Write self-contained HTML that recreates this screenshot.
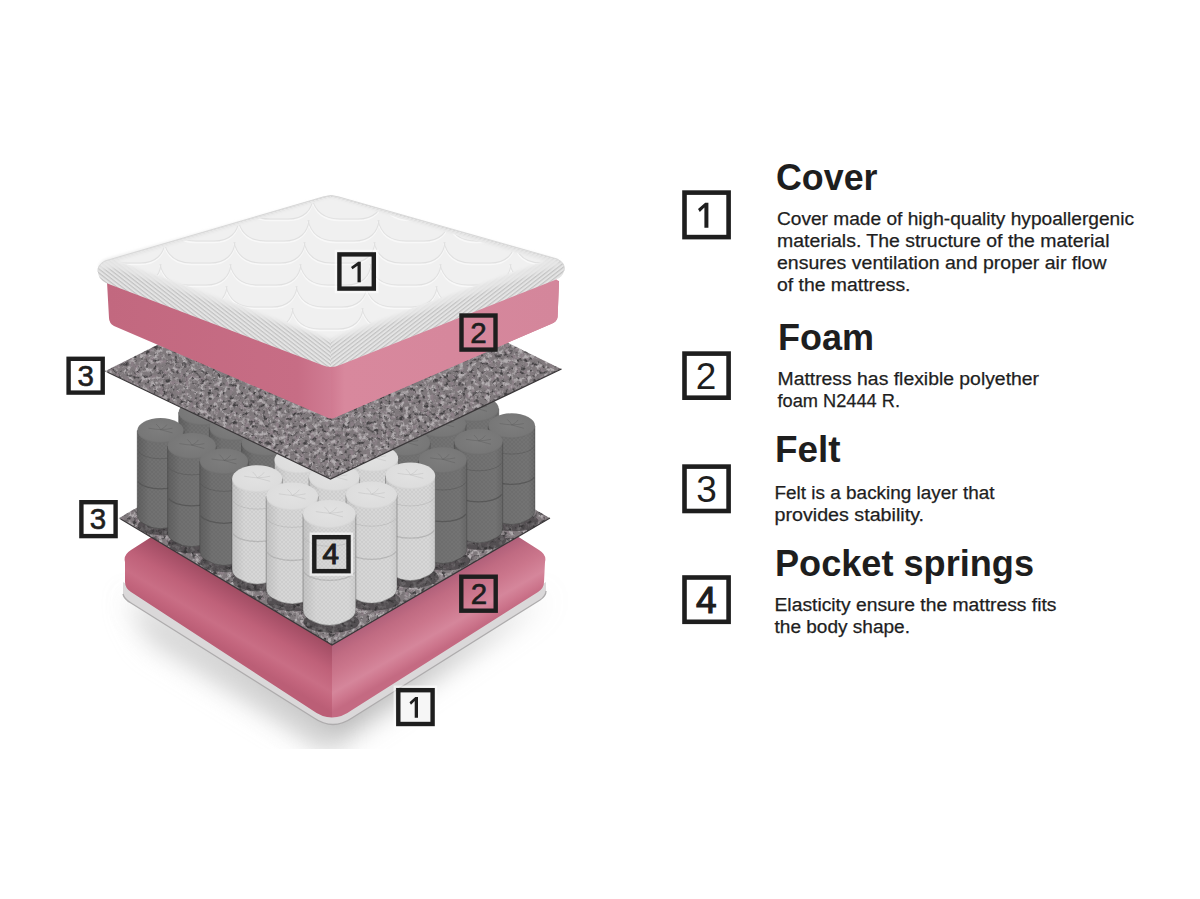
<!DOCTYPE html>
<html><head><meta charset="utf-8">
<style>
html,body{margin:0;padding:0;background:#fff;}
body{width:1200px;height:899px;overflow:hidden;position:relative;font-family:"Liberation Sans",sans-serif;}
svg{position:absolute;left:0;top:0;}
.h{font-family:"Liberation Sans",sans-serif;font-weight:bold;font-size:37px;fill:#1e1e1e;}
.b{font-family:"Liberation Sans",sans-serif;font-size:18px;fill:#1e1e1e;stroke:#1e1e1e;stroke-width:0.25px;}
.n{font-family:"Liberation Sans",sans-serif;font-size:37px;fill:#1e1e1e;}
.n4{font-family:"Liberation Sans",sans-serif;font-size:37px;fill:#1e1e1e;stroke:#1e1e1e;stroke-width:1.2px;}
.m4{font-family:"Liberation Sans",sans-serif;font-size:29.5px;fill:#1e1e1e;stroke:#1e1e1e;stroke-width:1.1px;}
.m{font-family:"Liberation Sans",sans-serif;font-size:29.5px;fill:#1e1e1e;stroke:#1e1e1e;stroke-width:0.6px;}
</style></head>
<body>
<svg width="1200" height="899" viewBox="0 0 1200 899">
<defs>
<linearGradient id="gd" x1="0" y1="0" x2="1" y2="0">
<stop offset="0" stop-color="#606060"/><stop offset="0.25" stop-color="#717171"/><stop offset="0.85" stop-color="#747474"/><stop offset="1" stop-color="#686868"/>
</linearGradient>
<linearGradient id="gl" x1="0" y1="0" x2="1" y2="0">
<stop offset="0" stop-color="#c4c4c4"/><stop offset="0.25" stop-color="#d6d6d6"/><stop offset="0.85" stop-color="#d8d8d8"/><stop offset="1" stop-color="#cdcdcd"/>
</linearGradient>
<radialGradient id="td" cx="0.5" cy="0.45" r="0.6">
<stop offset="0" stop-color="#7e7e7e"/><stop offset="0.8" stop-color="#777"/><stop offset="1" stop-color="#666"/>
</radialGradient>
<radialGradient id="tl" cx="0.5" cy="0.45" r="0.6">
<stop offset="0" stop-color="#e2e2e2"/><stop offset="0.8" stop-color="#dddddd"/><stop offset="1" stop-color="#cacaca"/>
</radialGradient>
<pattern id="knit" patternUnits="userSpaceOnUse" width="4" height="4"><path d="M0,4 L4,0 M0,0 L4,4" stroke="#000" stroke-width="0.5" opacity="0.35"/></pattern>
<filter id="felt" x="0" y="0" width="100%" height="100%" color-interpolation-filters="sRGB">
<feTurbulence type="fractalNoise" baseFrequency="0.22" numOctaves="3" seed="3" result="n1"/>
<feColorMatrix in="n1" type="matrix" values="0 0 0 0 0.70  0 0 0 0 0.68  0 0 0 0 0.69  4 0 0 0 -1.9" result="s1"/>
<feTurbulence type="fractalNoise" baseFrequency="0.24" numOctaves="3" seed="11" result="n2"/>
<feColorMatrix in="n2" type="matrix" values="0 0 0 0 0.26  0 0 0 0 0.25  0 0 0 0 0.26  4 0 0 0 -2.15" result="s2"/>
<feTurbulence type="fractalNoise" baseFrequency="0.2" numOctaves="2" seed="29" result="n3"/>
<feColorMatrix in="n3" type="matrix" values="0 0 0 0 0.55  0 0 0 0 0.50  0 0 0 0 0.53  4 0 0 0 -2.0" result="s3"/>
<feMerge result="m"><feMergeNode in="SourceGraphic"/><feMergeNode in="s3"/><feMergeNode in="s1"/><feMergeNode in="s2"/></feMerge>
<feComposite in="m" in2="SourceAlpha" operator="in"/>
</filter>
<filter id="blur12" x="-30%" y="-30%" width="160%" height="160%"><feGaussianBlur stdDeviation="14"/></filter>
<filter id="blur4" x="-10%" y="-10%" width="120%" height="120%"><feGaussianBlur stdDeviation="4"/></filter>
<filter id="blur2" x="-10%" y="-10%" width="120%" height="120%"><feGaussianBlur stdDeviation="1.5"/></filter>
<linearGradient id="pinkLowL" gradientUnits="userSpaceOnUse" x1="230" y1="584" x2="200" y2="634.6">
<stop offset="0" stop-color="#a04c62"/><stop offset="0.2" stop-color="#b0566e"/><stop offset="0.4" stop-color="#bf6179"/><stop offset="0.7" stop-color="#c96e85"/><stop offset="0.85" stop-color="#c3657d"/><stop offset="1" stop-color="#bb5e76"/>
</linearGradient>
<linearGradient id="pinkLowR" gradientUnits="userSpaceOnUse" x1="440" y1="582" x2="469.5" y2="633">
<stop offset="0" stop-color="#b0607a"/><stop offset="0.2" stop-color="#c06b82"/><stop offset="0.45" stop-color="#cb768c"/><stop offset="0.72" stop-color="#d5869b"/><stop offset="0.88" stop-color="#cd768d"/><stop offset="1" stop-color="#c46a82"/>
</linearGradient>
<linearGradient id="pinkUpL" gradientUnits="userSpaceOnUse" x1="107" y1="0" x2="331" y2="0">
<stop offset="0" stop-color="#c2687f"/><stop offset="0.85" stop-color="#c76d85"/><stop offset="1" stop-color="#d07c93"/>
</linearGradient>
<linearGradient id="pinkUpR" gradientUnits="userSpaceOnUse" x1="331" y1="0" x2="559" y2="0">
<stop offset="0" stop-color="#d07a91"/><stop offset="0.06" stop-color="#d8889d"/><stop offset="1" stop-color="#d4869b"/>
</linearGradient>
</defs>

<!-- shadow -->
<path d="M126,596 L334,744 L548,596 L334,700 Z" fill="#b4b4b4" filter="url(#blur12)"/>
<path d="M128,598 L334,730 L334,752 L150,640 Z" fill="#cfcfcf" filter="url(#blur12)"/>
<rect x="0" y="749" width="1200" height="150" fill="#fff"/>
<!-- bottom white cover strip -->
<path d="M123,582 L123,594 Q124,599 131,603 L314,718 Q333,731 352,718 L540,600 Q546,596 546,591 L546,582 L334,714 Z" fill="#dad8d9"/>
<path d="M123,594 Q124,599 131,603 L314,718 Q333,731 352,718 L540,600 Q546,596 546,591" fill="none" stroke="#aeacad" stroke-width="1.3"/>
<!-- lower pink foam -->
<clipPath id="lowpink"><path d="M125,562 Q123,555 131,550 L334,420 L539,550 Q547,555 545,562 L544,582 Q544,588 538,592 L352,710 Q332,725 312,710 L131,592 Q125,588 125,582 Z"/></clipPath>
<g clip-path="url(#lowpink)">
<path d="M120,540 L334,400 L332,400 L332,730 L120,600 Z" fill="url(#pinkLowL)"/>
<path d="M332,400 L550,540 L550,600 L332,730 Z" fill="url(#pinkLowR)"/>
<path d="M332,648 L332,716" stroke="#c8708a" stroke-width="10" filter="url(#blur4)"/>
</g>
<!-- lower felt -->
<path d="M119,518 L333,392 L550,518 L332,645 Z" fill="#7f797c" filter="url(#felt)"/>
<path d="M119,518 L332,645 L550,518" fill="none" stroke="#3a3739" stroke-width="1.2"/>

<!-- springs -->
<ellipse cx="204.6" cy="511.1" rx="25.5" ry="9.7" fill="#2e2c2d" opacity="0.55"/>
<path d="M178.6,412.4 L178.6,499.3 Q178.6,505.3 184.6,508.5 Q202.6,519.5 220.6,508.5 Q226.6,505.3 226.6,499.3 L226.6,412.4 Z" fill="url(#gd)" stroke="#333" stroke-opacity="0.35" stroke-width="1"/>
<path d="M179.6,465.3 A24.0,10.4 0 0 0 225.6,465.3" fill="none" stroke="#555" stroke-width="1.3" opacity="0.8"/>
<path d="M179.6,434.1 A24.0,10.4 0 0 0 225.6,434.1" fill="none" stroke="#555" stroke-width="0.6" opacity="0.8"/>
<ellipse cx="202.6" cy="412.4" rx="24.0" ry="13.0" fill="url(#td)"/>
<path d="M202.6,411.4 Q197.9,411.1 190.2,409.9" fill="none" stroke="#5e5e5e" stroke-width="0.8" opacity="0.6"/>
<path d="M202.6,411.4 Q201.8,409.0 198.1,405.7" fill="none" stroke="#5e5e5e" stroke-width="0.8" opacity="0.6"/>
<path d="M202.6,411.4 Q207.4,409.3 209.2,406.2" fill="none" stroke="#5e5e5e" stroke-width="0.8" opacity="0.6"/>
<path d="M202.6,411.4 Q210.3,411.1 215.0,409.9" fill="none" stroke="#5e5e5e" stroke-width="0.8" opacity="0.6"/>
<path d="M202.6,411.4 Q210.3,413.6 215.0,414.8" fill="none" stroke="#5e5e5e" stroke-width="0.8" opacity="0.6"/>
<path d="M178.6,412.4 L178.6,499.3 Q178.6,505.3 184.6,508.5 Q202.6,519.5 220.6,508.5 Q226.6,505.3 226.6,499.3 L226.6,412.4 A24.0,13.0 0 0 1 178.6,412.4 Z" fill="url(#knit)" opacity="0.25"/>
<ellipse cx="476.5" cy="507.4" rx="25.8" ry="9.8" fill="#2e2c2d" opacity="0.55"/>
<path d="M450.2,408.8 L450.2,495.5 Q450.2,501.5 456.2,504.8 Q474.5,515.9 492.8,504.8 Q498.8,501.5 498.8,495.5 L498.8,408.8 Z" fill="url(#gd)" stroke="#333" stroke-opacity="0.35" stroke-width="1"/>
<path d="M451.2,461.6 A24.3,10.5 0 0 0 497.8,461.6" fill="none" stroke="#555" stroke-width="1.3" opacity="0.8"/>
<path d="M451.2,430.4 A24.3,10.5 0 0 0 497.8,430.4" fill="none" stroke="#555" stroke-width="0.6" opacity="0.8"/>
<ellipse cx="474.5" cy="408.8" rx="24.3" ry="13.1" fill="url(#td)"/>
<path d="M474.5,407.8 Q469.7,407.6 462.0,406.3" fill="none" stroke="#5e5e5e" stroke-width="0.8" opacity="0.6"/>
<path d="M474.5,407.8 Q473.7,405.4 469.9,402.0" fill="none" stroke="#5e5e5e" stroke-width="0.8" opacity="0.6"/>
<path d="M474.5,407.8 Q479.3,405.7 481.2,402.6" fill="none" stroke="#5e5e5e" stroke-width="0.8" opacity="0.6"/>
<path d="M474.5,407.8 Q482.3,407.6 487.0,406.3" fill="none" stroke="#5e5e5e" stroke-width="0.8" opacity="0.6"/>
<path d="M474.5,407.8 Q482.3,410.0 487.0,411.3" fill="none" stroke="#5e5e5e" stroke-width="0.8" opacity="0.6"/>
<path d="M450.2,408.8 L450.2,495.5 Q450.2,501.5 456.2,504.8 Q474.5,515.9 492.8,504.8 Q498.8,501.5 498.8,495.5 L498.8,408.8 A24.3,13.1 0 0 1 450.2,408.8 Z" fill="url(#knit)" opacity="0.25"/>
<ellipse cx="513.7" cy="521.7" rx="24.9" ry="9.5" fill="#2e2c2d" opacity="0.55"/>
<path d="M488.3,425.9 L488.3,510.0 Q488.3,516.0 494.3,519.2 Q511.7,529.9 529.0,519.2 Q535.0,516.0 535.0,510.0 L535.0,425.9 Z" fill="url(#gd)" stroke="#333" stroke-opacity="0.35" stroke-width="1"/>
<path d="M489.3,477.3 A23.4,10.1 0 0 0 534.0,477.3" fill="none" stroke="#555" stroke-width="1.3" opacity="0.8"/>
<path d="M489.3,447.0 A23.4,10.1 0 0 0 534.0,447.0" fill="none" stroke="#555" stroke-width="0.6" opacity="0.8"/>
<ellipse cx="511.7" cy="425.9" rx="23.4" ry="12.6" fill="url(#td)"/>
<path d="M511.7,424.9 Q507.2,424.7 499.6,423.5" fill="none" stroke="#5e5e5e" stroke-width="0.8" opacity="0.6"/>
<path d="M511.7,424.9 Q511.0,422.7 507.3,419.4" fill="none" stroke="#5e5e5e" stroke-width="0.8" opacity="0.6"/>
<path d="M511.7,424.9 Q516.4,422.9 518.1,419.9" fill="none" stroke="#5e5e5e" stroke-width="0.8" opacity="0.6"/>
<path d="M511.7,424.9 Q519.2,424.7 523.8,423.5" fill="none" stroke="#5e5e5e" stroke-width="0.8" opacity="0.6"/>
<path d="M511.7,424.9 Q519.2,427.1 523.8,428.3" fill="none" stroke="#5e5e5e" stroke-width="0.8" opacity="0.6"/>
<path d="M488.3,425.9 L488.3,510.0 Q488.3,516.0 494.3,519.2 Q511.7,529.9 529.0,519.2 Q535.0,516.0 535.0,510.0 L535.0,425.9 A23.4,12.6 0 0 1 488.3,425.9 Z" fill="url(#knit)" opacity="0.25"/>
<ellipse cx="162.5" cy="525.9" rx="24.8" ry="9.4" fill="#2e2c2d" opacity="0.55"/>
<path d="M137.2,430.6 L137.2,514.3 Q137.2,520.3 143.2,523.4 Q160.5,534.1 177.8,523.4 Q183.8,520.3 183.8,514.3 L183.8,430.6 Z" fill="url(#gd)" stroke="#333" stroke-opacity="0.35" stroke-width="1"/>
<path d="M138.2,481.7 A23.2,10.0 0 0 0 182.8,481.7" fill="none" stroke="#555" stroke-width="1.3" opacity="0.8"/>
<path d="M138.2,451.5 A23.2,10.0 0 0 0 182.8,451.5" fill="none" stroke="#555" stroke-width="0.6" opacity="0.8"/>
<ellipse cx="160.5" cy="430.6" rx="23.2" ry="12.6" fill="url(#td)"/>
<path d="M160.5,429.6 Q156.0,429.4 148.5,428.2" fill="none" stroke="#5e5e5e" stroke-width="0.8" opacity="0.6"/>
<path d="M160.5,429.6 Q159.8,427.3 156.1,424.1" fill="none" stroke="#5e5e5e" stroke-width="0.8" opacity="0.6"/>
<path d="M160.5,429.6 Q165.2,427.6 166.9,424.6" fill="none" stroke="#5e5e5e" stroke-width="0.8" opacity="0.6"/>
<path d="M160.5,429.6 Q168.0,429.4 172.5,428.2" fill="none" stroke="#5e5e5e" stroke-width="0.8" opacity="0.6"/>
<path d="M160.5,429.6 Q168.0,431.7 172.5,432.9" fill="none" stroke="#5e5e5e" stroke-width="0.8" opacity="0.6"/>
<path d="M137.2,430.6 L137.2,514.3 Q137.2,520.3 143.2,523.4 Q160.5,534.1 177.8,523.4 Q183.8,520.3 183.8,514.3 L183.8,430.6 A23.2,12.6 0 0 1 137.2,430.6 Z" fill="url(#knit)" opacity="0.25"/>
<ellipse cx="235.9" cy="527.5" rx="26.0" ry="9.9" fill="#2e2c2d" opacity="0.55"/>
<path d="M209.4,427.6 L209.4,515.6 Q209.4,521.6 215.4,524.9 Q233.9,536.1 252.4,524.9 Q258.4,521.6 258.4,515.6 L258.4,427.6 Z" fill="url(#gd)" stroke="#333" stroke-opacity="0.35" stroke-width="1"/>
<path d="M210.4,481.1 A24.5,10.6 0 0 0 257.4,481.1" fill="none" stroke="#555" stroke-width="1.3" opacity="0.8"/>
<path d="M210.4,449.5 A24.5,10.6 0 0 0 257.4,449.5" fill="none" stroke="#555" stroke-width="0.6" opacity="0.8"/>
<ellipse cx="233.9" cy="427.6" rx="24.5" ry="13.2" fill="url(#td)"/>
<path d="M233.9,426.6 Q229.1,426.4 221.2,425.1" fill="none" stroke="#5e5e5e" stroke-width="0.8" opacity="0.6"/>
<path d="M233.9,426.6 Q233.1,424.2 229.3,420.8" fill="none" stroke="#5e5e5e" stroke-width="0.8" opacity="0.6"/>
<path d="M233.9,426.6 Q238.8,424.5 240.6,421.3" fill="none" stroke="#5e5e5e" stroke-width="0.8" opacity="0.6"/>
<path d="M233.9,426.6 Q241.7,426.4 246.6,425.1" fill="none" stroke="#5e5e5e" stroke-width="0.8" opacity="0.6"/>
<path d="M233.9,426.6 Q241.7,428.9 246.6,430.1" fill="none" stroke="#5e5e5e" stroke-width="0.8" opacity="0.6"/>
<path d="M209.4,427.6 L209.4,515.6 Q209.4,521.6 215.4,524.9 Q233.9,536.1 252.4,524.9 Q258.4,521.6 258.4,515.6 L258.4,427.6 A24.5,13.2 0 0 1 209.4,427.6 Z" fill="url(#knit)" opacity="0.25"/>
<ellipse cx="443.3" cy="524.3" rx="26.2" ry="10.0" fill="#2e2c2d" opacity="0.55"/>
<path d="M416.6,424.4 L416.6,512.3 Q416.6,518.3 422.6,521.6 Q441.3,532.9 460.0,521.6 Q466.0,518.3 466.0,512.3 L466.0,424.4 Z" fill="url(#gd)" stroke="#333" stroke-opacity="0.35" stroke-width="1"/>
<path d="M417.6,477.9 A24.7,10.7 0 0 0 465.0,477.9" fill="none" stroke="#555" stroke-width="1.3" opacity="0.8"/>
<path d="M417.6,446.2 A24.7,10.7 0 0 0 465.0,446.2" fill="none" stroke="#555" stroke-width="0.6" opacity="0.8"/>
<ellipse cx="441.3" cy="424.4" rx="24.7" ry="13.3" fill="url(#td)"/>
<path d="M441.3,423.4 Q436.4,423.2 428.5,421.9" fill="none" stroke="#5e5e5e" stroke-width="0.8" opacity="0.6"/>
<path d="M441.3,423.4 Q440.5,421.0 436.7,417.5" fill="none" stroke="#5e5e5e" stroke-width="0.8" opacity="0.6"/>
<path d="M441.3,423.4 Q446.2,421.3 448.1,418.1" fill="none" stroke="#5e5e5e" stroke-width="0.8" opacity="0.6"/>
<path d="M441.3,423.4 Q449.2,423.2 454.1,421.9" fill="none" stroke="#5e5e5e" stroke-width="0.8" opacity="0.6"/>
<path d="M441.3,423.4 Q449.2,425.7 454.1,426.9" fill="none" stroke="#5e5e5e" stroke-width="0.8" opacity="0.6"/>
<path d="M416.6,424.4 L416.6,512.3 Q416.6,518.3 422.6,521.6 Q441.3,532.9 460.0,521.6 Q466.0,518.3 466.0,512.3 L466.0,424.4 A24.7,13.3 0 0 1 416.6,424.4 Z" fill="url(#knit)" opacity="0.25"/>
<ellipse cx="193.8" cy="543.8" rx="25.7" ry="9.8" fill="#2e2c2d" opacity="0.55"/>
<path d="M167.6,446.1 L167.6,531.9 Q167.6,537.9 173.6,541.2 Q191.8,552.3 210.0,541.2 Q216.0,537.9 216.0,531.9 L216.0,446.1 Z" fill="url(#gd)" stroke="#333" stroke-opacity="0.35" stroke-width="1"/>
<path d="M168.6,498.4 A24.2,10.5 0 0 0 215.0,498.4" fill="none" stroke="#555" stroke-width="1.3" opacity="0.8"/>
<path d="M168.6,467.4 A24.2,10.5 0 0 0 215.0,467.4" fill="none" stroke="#555" stroke-width="0.6" opacity="0.8"/>
<ellipse cx="191.8" cy="446.1" rx="24.2" ry="13.1" fill="url(#td)"/>
<path d="M191.8,445.1 Q187.0,444.8 179.3,443.6" fill="none" stroke="#5e5e5e" stroke-width="0.8" opacity="0.6"/>
<path d="M191.8,445.1 Q191.0,442.7 187.2,439.3" fill="none" stroke="#5e5e5e" stroke-width="0.8" opacity="0.6"/>
<path d="M191.8,445.1 Q196.6,443.0 198.5,439.8" fill="none" stroke="#5e5e5e" stroke-width="0.8" opacity="0.6"/>
<path d="M191.8,445.1 Q199.6,444.8 204.3,443.6" fill="none" stroke="#5e5e5e" stroke-width="0.8" opacity="0.6"/>
<path d="M191.8,445.1 Q199.6,447.3 204.3,448.5" fill="none" stroke="#5e5e5e" stroke-width="0.8" opacity="0.6"/>
<path d="M167.6,446.1 L167.6,531.9 Q167.6,537.9 173.6,541.2 Q191.8,552.3 210.0,541.2 Q216.0,537.9 216.0,531.9 L216.0,446.1 A24.2,13.1 0 0 1 167.6,446.1 Z" fill="url(#knit)" opacity="0.25"/>
<ellipse cx="268.1" cy="544.5" rx="26.0" ry="9.9" fill="#2e2c2d" opacity="0.55"/>
<path d="M241.6,443.0 L241.6,532.6 Q241.6,538.6 247.6,541.9 Q266.1,553.1 284.6,541.9 Q290.6,538.6 290.6,532.6 L290.6,443.0 Z" fill="url(#gd)" stroke="#333" stroke-opacity="0.35" stroke-width="1"/>
<path d="M242.6,497.5 A24.5,10.6 0 0 0 289.6,497.5" fill="none" stroke="#555" stroke-width="1.3" opacity="0.8"/>
<path d="M242.6,465.4 A24.5,10.6 0 0 0 289.6,465.4" fill="none" stroke="#555" stroke-width="0.6" opacity="0.8"/>
<ellipse cx="266.1" cy="443.0" rx="24.5" ry="13.2" fill="url(#td)"/>
<path d="M266.1,442.0 Q261.3,441.8 253.5,440.5" fill="none" stroke="#5e5e5e" stroke-width="0.8" opacity="0.6"/>
<path d="M266.1,442.0 Q265.3,439.6 261.5,436.2" fill="none" stroke="#5e5e5e" stroke-width="0.8" opacity="0.6"/>
<path d="M266.1,442.0 Q271.0,439.9 272.8,436.7" fill="none" stroke="#5e5e5e" stroke-width="0.8" opacity="0.6"/>
<path d="M266.1,442.0 Q273.9,441.8 278.7,440.5" fill="none" stroke="#5e5e5e" stroke-width="0.8" opacity="0.6"/>
<path d="M266.1,442.0 Q273.9,444.2 278.7,445.5" fill="none" stroke="#5e5e5e" stroke-width="0.8" opacity="0.6"/>
<path d="M241.6,443.0 L241.6,532.6 Q241.6,538.6 247.6,541.9 Q266.1,553.1 284.6,541.9 Q290.6,538.6 290.6,532.6 L290.6,443.0 A24.5,13.2 0 0 1 241.6,443.0 Z" fill="url(#knit)" opacity="0.25"/>
<ellipse cx="407.4" cy="543.8" rx="26.2" ry="10.0" fill="#2e2c2d" opacity="0.55"/>
<path d="M380.7,443.0 L380.7,531.8 Q380.7,537.8 386.7,541.1 Q405.4,552.5 424.1,541.1 Q430.1,537.8 430.1,531.8 L430.1,443.0 Z" fill="url(#gd)" stroke="#333" stroke-opacity="0.35" stroke-width="1"/>
<path d="M381.7,497.0 A24.7,10.7 0 0 0 429.1,497.0" fill="none" stroke="#555" stroke-width="1.3" opacity="0.8"/>
<path d="M381.7,465.1 A24.7,10.7 0 0 0 429.1,465.1" fill="none" stroke="#555" stroke-width="0.6" opacity="0.8"/>
<ellipse cx="405.4" cy="443.0" rx="24.7" ry="13.3" fill="url(#td)"/>
<path d="M405.4,442.0 Q400.5,441.8 392.6,440.5" fill="none" stroke="#5e5e5e" stroke-width="0.8" opacity="0.6"/>
<path d="M405.4,442.0 Q404.6,439.6 400.8,436.1" fill="none" stroke="#5e5e5e" stroke-width="0.8" opacity="0.6"/>
<path d="M405.4,442.0 Q410.3,439.9 412.2,436.7" fill="none" stroke="#5e5e5e" stroke-width="0.8" opacity="0.6"/>
<path d="M405.4,442.0 Q413.3,441.8 418.2,440.5" fill="none" stroke="#5e5e5e" stroke-width="0.8" opacity="0.6"/>
<path d="M405.4,442.0 Q413.3,444.3 418.2,445.5" fill="none" stroke="#5e5e5e" stroke-width="0.8" opacity="0.6"/>
<path d="M380.7,443.0 L380.7,531.8 Q380.7,537.8 386.7,541.1 Q405.4,552.5 424.1,541.1 Q430.1,537.8 430.1,531.8 L430.1,443.0 A24.7,13.3 0 0 1 380.7,443.0 Z" fill="url(#knit)" opacity="0.25"/>
<ellipse cx="480.5" cy="540.1" rx="25.7" ry="9.8" fill="#2e2c2d" opacity="0.55"/>
<path d="M454.3,441.8 L454.3,528.2 Q454.3,534.2 460.3,537.5 Q478.5,548.6 496.7,537.5 Q502.7,534.2 502.7,528.2 L502.7,441.8 Z" fill="url(#gd)" stroke="#333" stroke-opacity="0.35" stroke-width="1"/>
<path d="M455.3,494.4 A24.2,10.5 0 0 0 501.7,494.4" fill="none" stroke="#555" stroke-width="1.3" opacity="0.8"/>
<path d="M455.3,463.3 A24.2,10.5 0 0 0 501.7,463.3" fill="none" stroke="#555" stroke-width="0.6" opacity="0.8"/>
<ellipse cx="478.5" cy="441.8" rx="24.2" ry="13.1" fill="url(#td)"/>
<path d="M478.5,440.8 Q473.7,440.5 466.0,439.3" fill="none" stroke="#5e5e5e" stroke-width="0.8" opacity="0.6"/>
<path d="M478.5,440.8 Q477.7,438.4 473.9,435.0" fill="none" stroke="#5e5e5e" stroke-width="0.8" opacity="0.6"/>
<path d="M478.5,440.8 Q483.3,438.7 485.2,435.5" fill="none" stroke="#5e5e5e" stroke-width="0.8" opacity="0.6"/>
<path d="M478.5,440.8 Q486.3,440.5 491.0,439.3" fill="none" stroke="#5e5e5e" stroke-width="0.8" opacity="0.6"/>
<path d="M478.5,440.8 Q486.3,443.0 491.0,444.2" fill="none" stroke="#5e5e5e" stroke-width="0.8" opacity="0.6"/>
<path d="M454.3,441.8 L454.3,528.2 Q454.3,534.2 460.3,537.5 Q478.5,548.6 496.7,537.5 Q502.7,534.2 502.7,528.2 L502.7,441.8 A24.2,13.1 0 0 1 454.3,441.8 Z" fill="url(#knit)" opacity="0.25"/>
<ellipse cx="226.0" cy="562.5" rx="25.6" ry="9.8" fill="#2e2c2d" opacity="0.55"/>
<path d="M199.8,461.4 L199.8,550.6 Q199.8,556.6 205.8,559.9 Q224.0,571.0 242.2,559.9 Q248.2,556.6 248.2,550.6 L248.2,461.4 Z" fill="url(#gd)" stroke="#333" stroke-opacity="0.35" stroke-width="1"/>
<path d="M200.8,515.7 A24.1,10.4 0 0 0 247.2,515.7" fill="none" stroke="#555" stroke-width="1.3" opacity="0.8"/>
<path d="M200.8,483.8 A24.1,10.4 0 0 0 247.2,483.8" fill="none" stroke="#555" stroke-width="0.6" opacity="0.8"/>
<ellipse cx="224.0" cy="461.4" rx="24.1" ry="13.0" fill="url(#td)"/>
<path d="M224.0,460.4 Q219.3,460.2 211.5,459.0" fill="none" stroke="#5e5e5e" stroke-width="0.8" opacity="0.6"/>
<path d="M224.0,460.4 Q223.2,458.1 219.5,454.7" fill="none" stroke="#5e5e5e" stroke-width="0.8" opacity="0.6"/>
<path d="M224.0,460.4 Q228.8,458.3 230.6,455.2" fill="none" stroke="#5e5e5e" stroke-width="0.8" opacity="0.6"/>
<path d="M224.0,460.4 Q231.7,460.2 236.5,459.0" fill="none" stroke="#5e5e5e" stroke-width="0.8" opacity="0.6"/>
<path d="M224.0,460.4 Q231.7,462.7 236.5,463.9" fill="none" stroke="#5e5e5e" stroke-width="0.8" opacity="0.6"/>
<path d="M199.8,461.4 L199.8,550.6 Q199.8,556.6 205.8,559.9 Q224.0,571.0 242.2,559.9 Q248.2,556.6 248.2,550.6 L248.2,461.4 A24.1,13.0 0 0 1 199.8,461.4 Z" fill="url(#knit)" opacity="0.25"/>
<ellipse cx="375.2" cy="559.9" rx="26.5" ry="10.1" fill="#2e2c2d" opacity="0.55"/>
<path d="M348.2,458.3 L348.2,547.8 Q348.2,553.8 354.2,557.2 Q373.2,568.7 392.2,557.2 Q398.2,553.8 398.2,547.8 L398.2,458.3 Z" fill="url(#gl)" stroke="#333" stroke-opacity="0.35" stroke-width="1"/>
<path d="M349.2,512.7 A25.0,10.8 0 0 0 397.2,512.7" fill="none" stroke="#b4b4b4" stroke-width="1.3" opacity="0.8"/>
<path d="M349.2,480.5 A25.0,10.8 0 0 0 397.2,480.5" fill="none" stroke="#b4b4b4" stroke-width="0.6" opacity="0.8"/>
<ellipse cx="373.2" cy="458.3" rx="25.0" ry="13.5" fill="url(#tl)"/>
<path d="M373.2,457.3 Q368.2,457.1 360.3,455.8" fill="none" stroke="#bdbdbd" stroke-width="0.8" opacity="0.6"/>
<path d="M373.2,457.3 Q372.3,454.8 368.5,451.3" fill="none" stroke="#bdbdbd" stroke-width="0.8" opacity="0.6"/>
<path d="M373.2,457.3 Q378.1,455.1 380.1,451.9" fill="none" stroke="#bdbdbd" stroke-width="0.8" opacity="0.6"/>
<path d="M373.2,457.3 Q381.2,457.1 386.1,455.8" fill="none" stroke="#bdbdbd" stroke-width="0.8" opacity="0.6"/>
<path d="M373.2,457.3 Q381.2,459.6 386.1,460.9" fill="none" stroke="#bdbdbd" stroke-width="0.8" opacity="0.6"/>
<path d="M348.2,458.3 L348.2,547.8 Q348.2,553.8 354.2,557.2 Q373.2,568.7 392.2,557.2 Q398.2,553.8 398.2,547.8 L398.2,458.3 A25.0,13.5 0 0 1 348.2,458.3 Z" fill="url(#knit)" opacity="0.25"/>
<ellipse cx="301.3" cy="562.2" rx="26.4" ry="10.1" fill="#2e2c2d" opacity="0.55"/>
<path d="M274.4,460.1 L274.4,550.2 Q274.4,556.2 280.4,559.5 Q299.3,571.0 318.2,559.5 Q324.2,556.2 324.2,550.2 L324.2,460.1 Z" fill="url(#gl)" stroke="#333" stroke-opacity="0.35" stroke-width="1"/>
<path d="M275.4,514.8 A24.9,10.8 0 0 0 323.2,514.8" fill="none" stroke="#b4b4b4" stroke-width="1.3" opacity="0.8"/>
<path d="M275.4,482.5 A24.9,10.8 0 0 0 323.2,482.5" fill="none" stroke="#b4b4b4" stroke-width="0.6" opacity="0.8"/>
<ellipse cx="299.3" cy="460.1" rx="24.9" ry="13.5" fill="url(#tl)"/>
<path d="M299.3,459.1 Q294.4,458.8 286.4,457.5" fill="none" stroke="#bdbdbd" stroke-width="0.8" opacity="0.6"/>
<path d="M299.3,459.1 Q298.5,456.6 294.6,453.1" fill="none" stroke="#bdbdbd" stroke-width="0.8" opacity="0.6"/>
<path d="M299.3,459.1 Q304.2,456.9 306.2,453.7" fill="none" stroke="#bdbdbd" stroke-width="0.8" opacity="0.6"/>
<path d="M299.3,459.1 Q307.2,458.8 312.2,457.5" fill="none" stroke="#bdbdbd" stroke-width="0.8" opacity="0.6"/>
<path d="M299.3,459.1 Q307.2,461.3 312.2,462.6" fill="none" stroke="#bdbdbd" stroke-width="0.8" opacity="0.6"/>
<path d="M274.4,460.1 L274.4,550.2 Q274.4,556.2 280.4,559.5 Q299.3,571.0 318.2,559.5 Q324.2,556.2 324.2,550.2 L324.2,460.1 A24.9,13.5 0 0 1 274.4,460.1 Z" fill="url(#knit)" opacity="0.25"/>
<ellipse cx="444.6" cy="560.6" rx="25.6" ry="9.8" fill="#2e2c2d" opacity="0.55"/>
<path d="M418.5,460.3 L418.5,548.7 Q418.5,554.7 424.5,558.0 Q442.6,569.1 460.8,558.0 Q466.8,554.7 466.8,548.7 L466.8,460.3 Z" fill="url(#gd)" stroke="#333" stroke-opacity="0.35" stroke-width="1"/>
<path d="M419.5,514.1 A24.1,10.4 0 0 0 465.8,514.1" fill="none" stroke="#555" stroke-width="1.3" opacity="0.8"/>
<path d="M419.5,482.5 A24.1,10.4 0 0 0 465.8,482.5" fill="none" stroke="#555" stroke-width="0.6" opacity="0.8"/>
<ellipse cx="442.6" cy="460.3" rx="24.1" ry="13.0" fill="url(#td)"/>
<path d="M442.6,459.3 Q437.9,459.1 430.1,457.9" fill="none" stroke="#5e5e5e" stroke-width="0.8" opacity="0.6"/>
<path d="M442.6,459.3 Q441.8,457.0 438.1,453.6" fill="none" stroke="#5e5e5e" stroke-width="0.8" opacity="0.6"/>
<path d="M442.6,459.3 Q447.4,457.2 449.2,454.1" fill="none" stroke="#5e5e5e" stroke-width="0.8" opacity="0.6"/>
<path d="M442.6,459.3 Q450.3,459.1 455.1,457.9" fill="none" stroke="#5e5e5e" stroke-width="0.8" opacity="0.6"/>
<path d="M442.6,459.3 Q450.3,461.6 455.1,462.8" fill="none" stroke="#5e5e5e" stroke-width="0.8" opacity="0.6"/>
<path d="M418.5,460.3 L418.5,548.7 Q418.5,554.7 424.5,558.0 Q442.6,569.1 460.8,558.0 Q466.8,554.7 466.8,548.7 L466.8,460.3 A24.1,13.0 0 0 1 418.5,460.3 Z" fill="url(#knit)" opacity="0.25"/>
<ellipse cx="412.4" cy="577.7" rx="26.4" ry="10.1" fill="#2e2c2d" opacity="0.55"/>
<path d="M385.5,475.8 L385.5,565.6 Q385.5,571.6 391.5,575.0 Q410.4,586.4 429.3,575.0 Q435.3,571.6 435.3,565.6 L435.3,475.8 Z" fill="url(#gl)" stroke="#333" stroke-opacity="0.35" stroke-width="1"/>
<path d="M386.5,530.4 A24.9,10.8 0 0 0 434.3,530.4" fill="none" stroke="#b4b4b4" stroke-width="1.3" opacity="0.8"/>
<path d="M386.5,498.2 A24.9,10.8 0 0 0 434.3,498.2" fill="none" stroke="#b4b4b4" stroke-width="0.6" opacity="0.8"/>
<ellipse cx="410.4" cy="475.8" rx="24.9" ry="13.4" fill="url(#tl)"/>
<path d="M410.4,474.8 Q405.5,474.6 397.5,473.3" fill="none" stroke="#bdbdbd" stroke-width="0.8" opacity="0.6"/>
<path d="M410.4,474.8 Q409.6,472.4 405.7,468.9" fill="none" stroke="#bdbdbd" stroke-width="0.8" opacity="0.6"/>
<path d="M410.4,474.8 Q415.3,472.6 417.2,469.4" fill="none" stroke="#bdbdbd" stroke-width="0.8" opacity="0.6"/>
<path d="M410.4,474.8 Q418.3,474.6 423.3,473.3" fill="none" stroke="#bdbdbd" stroke-width="0.8" opacity="0.6"/>
<path d="M410.4,474.8 Q418.3,477.1 423.3,478.4" fill="none" stroke="#bdbdbd" stroke-width="0.8" opacity="0.6"/>
<path d="M385.5,475.8 L385.5,565.6 Q385.5,571.6 391.5,575.0 Q410.4,586.4 429.3,575.0 Q435.3,571.6 435.3,565.6 L435.3,475.8 A24.9,13.4 0 0 1 385.5,475.8 Z" fill="url(#knit)" opacity="0.25"/>
<ellipse cx="336.3" cy="580.7" rx="26.8" ry="10.3" fill="#2e2c2d" opacity="0.55"/>
<path d="M309.0,477.5 L309.0,568.5 Q309.0,574.5 315.0,577.9 Q334.3,589.5 353.6,577.9 Q359.6,574.5 359.6,568.5 L359.6,477.5 Z" fill="url(#gl)" stroke="#333" stroke-opacity="0.35" stroke-width="1"/>
<path d="M310.0,532.7 A25.3,10.9 0 0 0 358.6,532.7" fill="none" stroke="#b4b4b4" stroke-width="1.3" opacity="0.8"/>
<path d="M310.0,500.1 A25.3,10.9 0 0 0 358.6,500.1" fill="none" stroke="#b4b4b4" stroke-width="0.6" opacity="0.8"/>
<ellipse cx="334.3" cy="477.5" rx="25.3" ry="13.7" fill="url(#tl)"/>
<path d="M334.3,476.5 Q329.3,476.2 321.2,474.9" fill="none" stroke="#bdbdbd" stroke-width="0.8" opacity="0.6"/>
<path d="M334.3,476.5 Q333.4,473.9 329.5,470.4" fill="none" stroke="#bdbdbd" stroke-width="0.8" opacity="0.6"/>
<path d="M334.3,476.5 Q339.3,474.2 341.3,471.0" fill="none" stroke="#bdbdbd" stroke-width="0.8" opacity="0.6"/>
<path d="M334.3,476.5 Q342.3,476.2 347.4,474.9" fill="none" stroke="#bdbdbd" stroke-width="0.8" opacity="0.6"/>
<path d="M334.3,476.5 Q342.3,478.8 347.4,480.1" fill="none" stroke="#bdbdbd" stroke-width="0.8" opacity="0.6"/>
<path d="M309.0,477.5 L309.0,568.5 Q309.0,574.5 315.0,577.9 Q334.3,589.5 353.6,577.9 Q359.6,574.5 359.6,568.5 L359.6,477.5 A25.3,13.7 0 0 1 309.0,477.5 Z" fill="url(#knit)" opacity="0.25"/>
<ellipse cx="259.2" cy="581.1" rx="26.6" ry="10.2" fill="#2e2c2d" opacity="0.55"/>
<path d="M232.0,478.8 L232.0,569.0 Q232.0,575.0 238.0,578.4 Q257.2,590.0 276.3,578.4 Q282.3,575.0 282.3,569.0 L282.3,478.8 Z" fill="url(#gl)" stroke="#333" stroke-opacity="0.35" stroke-width="1"/>
<path d="M233.0,533.6 A25.1,10.9 0 0 0 281.3,533.6" fill="none" stroke="#b4b4b4" stroke-width="1.3" opacity="0.8"/>
<path d="M233.0,501.2 A25.1,10.9 0 0 0 281.3,501.2" fill="none" stroke="#b4b4b4" stroke-width="0.6" opacity="0.8"/>
<ellipse cx="257.2" cy="478.8" rx="25.1" ry="13.6" fill="url(#tl)"/>
<path d="M257.2,477.8 Q252.2,477.5 244.2,476.2" fill="none" stroke="#bdbdbd" stroke-width="0.8" opacity="0.6"/>
<path d="M257.2,477.8 Q256.3,475.3 252.5,471.8" fill="none" stroke="#bdbdbd" stroke-width="0.8" opacity="0.6"/>
<path d="M257.2,477.8 Q262.2,475.5 264.1,472.3" fill="none" stroke="#bdbdbd" stroke-width="0.8" opacity="0.6"/>
<path d="M257.2,477.8 Q265.2,477.5 270.2,476.2" fill="none" stroke="#bdbdbd" stroke-width="0.8" opacity="0.6"/>
<path d="M257.2,477.8 Q265.2,480.1 270.2,481.3" fill="none" stroke="#bdbdbd" stroke-width="0.8" opacity="0.6"/>
<path d="M232.0,478.8 L232.0,569.0 Q232.0,575.0 238.0,578.4 Q257.2,590.0 276.3,578.4 Q282.3,575.0 282.3,569.0 L282.3,478.8 A25.1,13.6 0 0 1 232.0,478.8 Z" fill="url(#knit)" opacity="0.25"/>
<ellipse cx="294.2" cy="600.8" rx="27.4" ry="10.5" fill="#2e2c2d" opacity="0.55"/>
<path d="M266.2,496.4 L266.2,588.5 Q266.2,594.5 272.2,598.0 Q292.2,609.9 312.1,598.0 Q318.1,594.5 318.1,588.5 L318.1,496.4 Z" fill="url(#gl)" stroke="#333" stroke-opacity="0.35" stroke-width="1"/>
<path d="M267.2,552.3 A25.9,11.2 0 0 0 317.1,552.3" fill="none" stroke="#b4b4b4" stroke-width="1.3" opacity="0.8"/>
<path d="M267.2,519.2 A25.9,11.2 0 0 0 317.1,519.2" fill="none" stroke="#b4b4b4" stroke-width="0.6" opacity="0.8"/>
<ellipse cx="292.2" cy="496.4" rx="25.9" ry="14.0" fill="url(#tl)"/>
<path d="M292.2,495.4 Q287.0,495.1 278.8,493.8" fill="none" stroke="#bdbdbd" stroke-width="0.8" opacity="0.6"/>
<path d="M292.2,495.4 Q291.3,492.8 287.3,489.2" fill="none" stroke="#bdbdbd" stroke-width="0.8" opacity="0.6"/>
<path d="M292.2,495.4 Q297.3,493.1 299.3,489.7" fill="none" stroke="#bdbdbd" stroke-width="0.8" opacity="0.6"/>
<path d="M292.2,495.4 Q300.4,495.1 305.6,493.8" fill="none" stroke="#bdbdbd" stroke-width="0.8" opacity="0.6"/>
<path d="M292.2,495.4 Q300.4,497.7 305.6,499.0" fill="none" stroke="#bdbdbd" stroke-width="0.8" opacity="0.6"/>
<path d="M266.2,496.4 L266.2,588.5 Q266.2,594.5 272.2,598.0 Q292.2,609.9 312.1,598.0 Q318.1,594.5 318.1,588.5 L318.1,496.4 A25.9,14.0 0 0 1 266.2,496.4 Z" fill="url(#knit)" opacity="0.25"/>
<ellipse cx="373.5" cy="600.3" rx="27.0" ry="10.3" fill="#2e2c2d" opacity="0.55"/>
<path d="M346.0,495.2 L346.0,588.1 Q346.0,594.1 352.0,597.5 Q371.5,609.2 391.0,597.5 Q397.0,594.1 397.0,588.1 L397.0,495.2 Z" fill="url(#gl)" stroke="#333" stroke-opacity="0.35" stroke-width="1"/>
<path d="M347.0,551.5 A25.5,11.0 0 0 0 396.0,551.5" fill="none" stroke="#b4b4b4" stroke-width="1.3" opacity="0.8"/>
<path d="M347.0,518.3 A25.5,11.0 0 0 0 396.0,518.3" fill="none" stroke="#b4b4b4" stroke-width="0.6" opacity="0.8"/>
<ellipse cx="371.5" cy="495.2" rx="25.5" ry="13.8" fill="url(#tl)"/>
<path d="M371.5,494.2 Q366.4,493.9 358.3,492.6" fill="none" stroke="#bdbdbd" stroke-width="0.8" opacity="0.6"/>
<path d="M371.5,494.2 Q370.6,491.6 366.7,488.1" fill="none" stroke="#bdbdbd" stroke-width="0.8" opacity="0.6"/>
<path d="M371.5,494.2 Q376.5,491.9 378.5,488.6" fill="none" stroke="#bdbdbd" stroke-width="0.8" opacity="0.6"/>
<path d="M371.5,494.2 Q379.6,493.9 384.7,492.6" fill="none" stroke="#bdbdbd" stroke-width="0.8" opacity="0.6"/>
<path d="M371.5,494.2 Q379.6,496.5 384.7,497.8" fill="none" stroke="#bdbdbd" stroke-width="0.8" opacity="0.6"/>
<path d="M346.0,495.2 L346.0,588.1 Q346.0,594.1 352.0,597.5 Q371.5,609.2 391.0,597.5 Q397.0,594.1 397.0,588.1 L397.0,495.2 A25.5,13.8 0 0 1 346.0,495.2 Z" fill="url(#knit)" opacity="0.25"/>
<ellipse cx="331.4" cy="622.2" rx="27.9" ry="10.7" fill="#2e2c2d" opacity="0.55"/>
<path d="M303.0,514.2 L303.0,609.8 Q303.0,615.8 309.0,619.4 Q329.4,631.5 349.8,619.4 Q355.8,615.8 355.8,609.8 L355.8,514.2 Z" fill="url(#gl)" stroke="#333" stroke-opacity="0.35" stroke-width="1"/>
<path d="M304.0,572.1 A26.4,11.4 0 0 0 354.8,572.1" fill="none" stroke="#b4b4b4" stroke-width="1.3" opacity="0.8"/>
<path d="M304.0,538.0 A26.4,11.4 0 0 0 354.8,538.0" fill="none" stroke="#b4b4b4" stroke-width="0.6" opacity="0.8"/>
<ellipse cx="329.4" cy="514.2" rx="26.4" ry="14.2" fill="url(#tl)"/>
<path d="M329.4,513.2 Q324.1,512.9 315.8,511.6" fill="none" stroke="#bdbdbd" stroke-width="0.8" opacity="0.6"/>
<path d="M329.4,513.2 Q328.4,510.6 324.4,506.9" fill="none" stroke="#bdbdbd" stroke-width="0.8" opacity="0.6"/>
<path d="M329.4,513.2 Q334.5,510.8 336.6,507.5" fill="none" stroke="#bdbdbd" stroke-width="0.8" opacity="0.6"/>
<path d="M329.4,513.2 Q337.7,512.9 343.0,511.6" fill="none" stroke="#bdbdbd" stroke-width="0.8" opacity="0.6"/>
<path d="M329.4,513.2 Q337.7,515.6 343.0,516.9" fill="none" stroke="#bdbdbd" stroke-width="0.8" opacity="0.6"/>
<path d="M303.0,514.2 L303.0,609.8 Q303.0,615.8 309.0,619.4 Q329.4,631.5 349.8,619.4 Q355.8,615.8 355.8,609.8 L355.8,514.2 A26.4,14.2 0 0 1 303.0,514.2 Z" fill="url(#knit)" opacity="0.25"/>

<!-- upper felt -->
<path d="M105,371 L333,257 L561.5,369 L330.5,479 Z" fill="#7f797c" filter="url(#felt)"/>
<path d="M105,371 L330.5,479 L561.5,369" fill="none" stroke="#3a3739" stroke-width="1.2"/>
<!-- upper pink foam -->
<path d="M107,282 L333,210 L559,281 L557.6,317 Q557,322 551,324 L336,417 Q331,420 326,417 L114,326 Q109,323 109,318 Z" fill="url(#pinkUpL)"/>
<path d="M331,362 L556,279 Q559,281 559,284 L557.6,317 Q557,322 551,324 L336,417 Q333,419 331,418 Z" fill="url(#pinkUpR)"/>
<!-- cover -->
<clipPath id="covsil"><path d="M98,272 Q97,265 105,261 L323,197 Q331,194 339,197 L557,259 Q566,263 564,271 Q563,277 555,280 L340,365 Q331,369 322,365 L106,283 Q98,279 98,272 Z"/></clipPath>
<pattern id="stripL" patternUnits="userSpaceOnUse" width="3.2" height="3.2" patternTransform="rotate(38)"><rect width="3.2" height="3.2" fill="#e4e4e4"/><rect width="3.2" height="1.2" fill="#c2c2c2"/></pattern>
<pattern id="stripR" patternUnits="userSpaceOnUse" width="3.2" height="3.2" patternTransform="rotate(-38)"><rect width="3.2" height="3.2" fill="#e4e4e4"/><rect width="3.2" height="1.2" fill="#c2c2c2"/></pattern>
<g clip-path="url(#covsil)">
<rect x="90" y="190" width="241" height="185" fill="url(#stripL)"/>
<rect x="331" y="190" width="240" height="185" fill="url(#stripR)"/>
</g>
<path d="M99,268 Q98,263 106,259 L323,198 Q331,195 339,198 L556,259 Q562,262 558,266 L332,342 L114,268 Q101,270 99,268 Z" fill="#e8e8e8" fill-opacity="0.85" filter="url(#blur2)"/>
<path d="M116,261 L323,199 Q331,196 339,199 L546,261 L334,337 Q330,339 326,337 Z" fill="#f0f0f0" filter="url(#blur2)"/>
<path d="M98,272 Q97,265 105,261 L323,197 Q331,194 339,197 L557,259 Q566,263 564,271" fill="none" stroke="#d8d8d8" stroke-width="1"/>
<clipPath id="topface"><path d="M118,261 L323,200 Q331,197 339,200 L544,261 L334,336 Q330,338 326,336 Z"/></clipPath>
<g clip-path="url(#topface)">
<g fill="none" stroke="#f8f8f8" stroke-width="1.4" transform="translate(0,1.5)">
<path d="M-34.0,176.0 C-31.0,190.0 -22.0,197.0 -6.0,197.0 L12.0,197.0 C28.0,197.0 36.0,188.0 37.0,176.0"/>
<path d="M36.0,176.0 C39.0,190.0 48.0,197.0 64.0,197.0 L82.0,197.0 C98.0,197.0 106.0,188.0 107.0,176.0"/>
<path d="M106.0,176.0 C109.0,190.0 118.0,197.0 134.0,197.0 L152.0,197.0 C168.0,197.0 176.0,188.0 177.0,176.0"/>
<path d="M176.0,176.0 C179.0,190.0 188.0,197.0 204.0,197.0 L222.0,197.0 C238.0,197.0 246.0,188.0 247.0,176.0"/>
<path d="M246.0,176.0 C249.0,190.0 258.0,197.0 274.0,197.0 L292.0,197.0 C308.0,197.0 316.0,188.0 317.0,176.0"/>
<path d="M316.0,176.0 C319.0,190.0 328.0,197.0 344.0,197.0 L362.0,197.0 C378.0,197.0 386.0,188.0 387.0,176.0"/>
<path d="M386.0,176.0 C389.0,190.0 398.0,197.0 414.0,197.0 L432.0,197.0 C448.0,197.0 456.0,188.0 457.0,176.0"/>
<path d="M456.0,176.0 C459.0,190.0 468.0,197.0 484.0,197.0 L502.0,197.0 C518.0,197.0 526.0,188.0 527.0,176.0"/>
<path d="M526.0,176.0 C529.0,190.0 538.0,197.0 554.0,197.0 L572.0,197.0 C588.0,197.0 596.0,188.0 597.0,176.0"/>
<path d="M596.0,176.0 C599.0,190.0 608.0,197.0 624.0,197.0 L642.0,197.0 C658.0,197.0 666.0,188.0 667.0,176.0"/>
<path d="M666.0,176.0 C669.0,190.0 678.0,197.0 694.0,197.0 L712.0,197.0 C728.0,197.0 736.0,188.0 737.0,176.0"/>
<path d="M736.0,176.0 C739.0,190.0 748.0,197.0 764.0,197.0 L782.0,197.0 C798.0,197.0 806.0,188.0 807.0,176.0"/>
<path d="M-38.0,198.0 C-35.0,212.0 -26.0,219.0 -10.0,219.0 L8.0,219.0 C24.0,219.0 32.0,210.0 33.0,198.0"/>
<path d="M32.0,198.0 C35.0,212.0 44.0,219.0 60.0,219.0 L78.0,219.0 C94.0,219.0 102.0,210.0 103.0,198.0"/>
<path d="M102.0,198.0 C105.0,212.0 114.0,219.0 130.0,219.0 L148.0,219.0 C164.0,219.0 172.0,210.0 173.0,198.0"/>
<path d="M172.0,198.0 C175.0,212.0 184.0,219.0 200.0,219.0 L218.0,219.0 C234.0,219.0 242.0,210.0 243.0,198.0"/>
<path d="M242.0,198.0 C245.0,212.0 254.0,219.0 270.0,219.0 L288.0,219.0 C304.0,219.0 312.0,210.0 313.0,198.0"/>
<path d="M312.0,198.0 C315.0,212.0 324.0,219.0 340.0,219.0 L358.0,219.0 C374.0,219.0 382.0,210.0 383.0,198.0"/>
<path d="M382.0,198.0 C385.0,212.0 394.0,219.0 410.0,219.0 L428.0,219.0 C444.0,219.0 452.0,210.0 453.0,198.0"/>
<path d="M452.0,198.0 C455.0,212.0 464.0,219.0 480.0,219.0 L498.0,219.0 C514.0,219.0 522.0,210.0 523.0,198.0"/>
<path d="M522.0,198.0 C525.0,212.0 534.0,219.0 550.0,219.0 L568.0,219.0 C584.0,219.0 592.0,210.0 593.0,198.0"/>
<path d="M592.0,198.0 C595.0,212.0 604.0,219.0 620.0,219.0 L638.0,219.0 C654.0,219.0 662.0,210.0 663.0,198.0"/>
<path d="M662.0,198.0 C665.0,212.0 674.0,219.0 690.0,219.0 L708.0,219.0 C724.0,219.0 732.0,210.0 733.0,198.0"/>
<path d="M732.0,198.0 C735.0,212.0 744.0,219.0 760.0,219.0 L778.0,219.0 C794.0,219.0 802.0,210.0 803.0,198.0"/>
<path d="M-42.0,220.0 C-39.0,234.0 -30.0,241.0 -14.0,241.0 L4.0,241.0 C20.0,241.0 28.0,232.0 29.0,220.0"/>
<path d="M28.0,220.0 C31.0,234.0 40.0,241.0 56.0,241.0 L74.0,241.0 C90.0,241.0 98.0,232.0 99.0,220.0"/>
<path d="M98.0,220.0 C101.0,234.0 110.0,241.0 126.0,241.0 L144.0,241.0 C160.0,241.0 168.0,232.0 169.0,220.0"/>
<path d="M168.0,220.0 C171.0,234.0 180.0,241.0 196.0,241.0 L214.0,241.0 C230.0,241.0 238.0,232.0 239.0,220.0"/>
<path d="M238.0,220.0 C241.0,234.0 250.0,241.0 266.0,241.0 L284.0,241.0 C300.0,241.0 308.0,232.0 309.0,220.0"/>
<path d="M308.0,220.0 C311.0,234.0 320.0,241.0 336.0,241.0 L354.0,241.0 C370.0,241.0 378.0,232.0 379.0,220.0"/>
<path d="M378.0,220.0 C381.0,234.0 390.0,241.0 406.0,241.0 L424.0,241.0 C440.0,241.0 448.0,232.0 449.0,220.0"/>
<path d="M448.0,220.0 C451.0,234.0 460.0,241.0 476.0,241.0 L494.0,241.0 C510.0,241.0 518.0,232.0 519.0,220.0"/>
<path d="M518.0,220.0 C521.0,234.0 530.0,241.0 546.0,241.0 L564.0,241.0 C580.0,241.0 588.0,232.0 589.0,220.0"/>
<path d="M588.0,220.0 C591.0,234.0 600.0,241.0 616.0,241.0 L634.0,241.0 C650.0,241.0 658.0,232.0 659.0,220.0"/>
<path d="M658.0,220.0 C661.0,234.0 670.0,241.0 686.0,241.0 L704.0,241.0 C720.0,241.0 728.0,232.0 729.0,220.0"/>
<path d="M728.0,220.0 C731.0,234.0 740.0,241.0 756.0,241.0 L774.0,241.0 C790.0,241.0 798.0,232.0 799.0,220.0"/>
<path d="M-46.0,242.0 C-43.0,256.0 -34.0,263.0 -18.0,263.0 L0.0,263.0 C16.0,263.0 24.0,254.0 25.0,242.0"/>
<path d="M24.0,242.0 C27.0,256.0 36.0,263.0 52.0,263.0 L70.0,263.0 C86.0,263.0 94.0,254.0 95.0,242.0"/>
<path d="M94.0,242.0 C97.0,256.0 106.0,263.0 122.0,263.0 L140.0,263.0 C156.0,263.0 164.0,254.0 165.0,242.0"/>
<path d="M164.0,242.0 C167.0,256.0 176.0,263.0 192.0,263.0 L210.0,263.0 C226.0,263.0 234.0,254.0 235.0,242.0"/>
<path d="M234.0,242.0 C237.0,256.0 246.0,263.0 262.0,263.0 L280.0,263.0 C296.0,263.0 304.0,254.0 305.0,242.0"/>
<path d="M304.0,242.0 C307.0,256.0 316.0,263.0 332.0,263.0 L350.0,263.0 C366.0,263.0 374.0,254.0 375.0,242.0"/>
<path d="M374.0,242.0 C377.0,256.0 386.0,263.0 402.0,263.0 L420.0,263.0 C436.0,263.0 444.0,254.0 445.0,242.0"/>
<path d="M444.0,242.0 C447.0,256.0 456.0,263.0 472.0,263.0 L490.0,263.0 C506.0,263.0 514.0,254.0 515.0,242.0"/>
<path d="M514.0,242.0 C517.0,256.0 526.0,263.0 542.0,263.0 L560.0,263.0 C576.0,263.0 584.0,254.0 585.0,242.0"/>
<path d="M584.0,242.0 C587.0,256.0 596.0,263.0 612.0,263.0 L630.0,263.0 C646.0,263.0 654.0,254.0 655.0,242.0"/>
<path d="M654.0,242.0 C657.0,256.0 666.0,263.0 682.0,263.0 L700.0,263.0 C716.0,263.0 724.0,254.0 725.0,242.0"/>
<path d="M724.0,242.0 C727.0,256.0 736.0,263.0 752.0,263.0 L770.0,263.0 C786.0,263.0 794.0,254.0 795.0,242.0"/>
<path d="M-50.0,264.0 C-47.0,278.0 -38.0,285.0 -22.0,285.0 L-4.0,285.0 C12.0,285.0 20.0,276.0 21.0,264.0"/>
<path d="M20.0,264.0 C23.0,278.0 32.0,285.0 48.0,285.0 L66.0,285.0 C82.0,285.0 90.0,276.0 91.0,264.0"/>
<path d="M90.0,264.0 C93.0,278.0 102.0,285.0 118.0,285.0 L136.0,285.0 C152.0,285.0 160.0,276.0 161.0,264.0"/>
<path d="M160.0,264.0 C163.0,278.0 172.0,285.0 188.0,285.0 L206.0,285.0 C222.0,285.0 230.0,276.0 231.0,264.0"/>
<path d="M230.0,264.0 C233.0,278.0 242.0,285.0 258.0,285.0 L276.0,285.0 C292.0,285.0 300.0,276.0 301.0,264.0"/>
<path d="M300.0,264.0 C303.0,278.0 312.0,285.0 328.0,285.0 L346.0,285.0 C362.0,285.0 370.0,276.0 371.0,264.0"/>
<path d="M370.0,264.0 C373.0,278.0 382.0,285.0 398.0,285.0 L416.0,285.0 C432.0,285.0 440.0,276.0 441.0,264.0"/>
<path d="M440.0,264.0 C443.0,278.0 452.0,285.0 468.0,285.0 L486.0,285.0 C502.0,285.0 510.0,276.0 511.0,264.0"/>
<path d="M510.0,264.0 C513.0,278.0 522.0,285.0 538.0,285.0 L556.0,285.0 C572.0,285.0 580.0,276.0 581.0,264.0"/>
<path d="M580.0,264.0 C583.0,278.0 592.0,285.0 608.0,285.0 L626.0,285.0 C642.0,285.0 650.0,276.0 651.0,264.0"/>
<path d="M650.0,264.0 C653.0,278.0 662.0,285.0 678.0,285.0 L696.0,285.0 C712.0,285.0 720.0,276.0 721.0,264.0"/>
<path d="M720.0,264.0 C723.0,278.0 732.0,285.0 748.0,285.0 L766.0,285.0 C782.0,285.0 790.0,276.0 791.0,264.0"/>
<path d="M-54.0,286.0 C-51.0,300.0 -42.0,307.0 -26.0,307.0 L-8.0,307.0 C8.0,307.0 16.0,298.0 17.0,286.0"/>
<path d="M16.0,286.0 C19.0,300.0 28.0,307.0 44.0,307.0 L62.0,307.0 C78.0,307.0 86.0,298.0 87.0,286.0"/>
<path d="M86.0,286.0 C89.0,300.0 98.0,307.0 114.0,307.0 L132.0,307.0 C148.0,307.0 156.0,298.0 157.0,286.0"/>
<path d="M156.0,286.0 C159.0,300.0 168.0,307.0 184.0,307.0 L202.0,307.0 C218.0,307.0 226.0,298.0 227.0,286.0"/>
<path d="M226.0,286.0 C229.0,300.0 238.0,307.0 254.0,307.0 L272.0,307.0 C288.0,307.0 296.0,298.0 297.0,286.0"/>
<path d="M296.0,286.0 C299.0,300.0 308.0,307.0 324.0,307.0 L342.0,307.0 C358.0,307.0 366.0,298.0 367.0,286.0"/>
<path d="M366.0,286.0 C369.0,300.0 378.0,307.0 394.0,307.0 L412.0,307.0 C428.0,307.0 436.0,298.0 437.0,286.0"/>
<path d="M436.0,286.0 C439.0,300.0 448.0,307.0 464.0,307.0 L482.0,307.0 C498.0,307.0 506.0,298.0 507.0,286.0"/>
<path d="M506.0,286.0 C509.0,300.0 518.0,307.0 534.0,307.0 L552.0,307.0 C568.0,307.0 576.0,298.0 577.0,286.0"/>
<path d="M576.0,286.0 C579.0,300.0 588.0,307.0 604.0,307.0 L622.0,307.0 C638.0,307.0 646.0,298.0 647.0,286.0"/>
<path d="M646.0,286.0 C649.0,300.0 658.0,307.0 674.0,307.0 L692.0,307.0 C708.0,307.0 716.0,298.0 717.0,286.0"/>
<path d="M716.0,286.0 C719.0,300.0 728.0,307.0 744.0,307.0 L762.0,307.0 C778.0,307.0 786.0,298.0 787.0,286.0"/>
<path d="M-58.0,308.0 C-55.0,322.0 -46.0,329.0 -30.0,329.0 L-12.0,329.0 C4.0,329.0 12.0,320.0 13.0,308.0"/>
<path d="M12.0,308.0 C15.0,322.0 24.0,329.0 40.0,329.0 L58.0,329.0 C74.0,329.0 82.0,320.0 83.0,308.0"/>
<path d="M82.0,308.0 C85.0,322.0 94.0,329.0 110.0,329.0 L128.0,329.0 C144.0,329.0 152.0,320.0 153.0,308.0"/>
<path d="M152.0,308.0 C155.0,322.0 164.0,329.0 180.0,329.0 L198.0,329.0 C214.0,329.0 222.0,320.0 223.0,308.0"/>
<path d="M222.0,308.0 C225.0,322.0 234.0,329.0 250.0,329.0 L268.0,329.0 C284.0,329.0 292.0,320.0 293.0,308.0"/>
<path d="M292.0,308.0 C295.0,322.0 304.0,329.0 320.0,329.0 L338.0,329.0 C354.0,329.0 362.0,320.0 363.0,308.0"/>
<path d="M362.0,308.0 C365.0,322.0 374.0,329.0 390.0,329.0 L408.0,329.0 C424.0,329.0 432.0,320.0 433.0,308.0"/>
<path d="M432.0,308.0 C435.0,322.0 444.0,329.0 460.0,329.0 L478.0,329.0 C494.0,329.0 502.0,320.0 503.0,308.0"/>
<path d="M502.0,308.0 C505.0,322.0 514.0,329.0 530.0,329.0 L548.0,329.0 C564.0,329.0 572.0,320.0 573.0,308.0"/>
<path d="M572.0,308.0 C575.0,322.0 584.0,329.0 600.0,329.0 L618.0,329.0 C634.0,329.0 642.0,320.0 643.0,308.0"/>
<path d="M642.0,308.0 C645.0,322.0 654.0,329.0 670.0,329.0 L688.0,329.0 C704.0,329.0 712.0,320.0 713.0,308.0"/>
<path d="M712.0,308.0 C715.0,322.0 724.0,329.0 740.0,329.0 L758.0,329.0 C774.0,329.0 782.0,320.0 783.0,308.0"/>
<path d="M-62.0,330.0 C-59.0,344.0 -50.0,351.0 -34.0,351.0 L-16.0,351.0 C0.0,351.0 8.0,342.0 9.0,330.0"/>
<path d="M8.0,330.0 C11.0,344.0 20.0,351.0 36.0,351.0 L54.0,351.0 C70.0,351.0 78.0,342.0 79.0,330.0"/>
<path d="M78.0,330.0 C81.0,344.0 90.0,351.0 106.0,351.0 L124.0,351.0 C140.0,351.0 148.0,342.0 149.0,330.0"/>
<path d="M148.0,330.0 C151.0,344.0 160.0,351.0 176.0,351.0 L194.0,351.0 C210.0,351.0 218.0,342.0 219.0,330.0"/>
<path d="M218.0,330.0 C221.0,344.0 230.0,351.0 246.0,351.0 L264.0,351.0 C280.0,351.0 288.0,342.0 289.0,330.0"/>
<path d="M288.0,330.0 C291.0,344.0 300.0,351.0 316.0,351.0 L334.0,351.0 C350.0,351.0 358.0,342.0 359.0,330.0"/>
<path d="M358.0,330.0 C361.0,344.0 370.0,351.0 386.0,351.0 L404.0,351.0 C420.0,351.0 428.0,342.0 429.0,330.0"/>
<path d="M428.0,330.0 C431.0,344.0 440.0,351.0 456.0,351.0 L474.0,351.0 C490.0,351.0 498.0,342.0 499.0,330.0"/>
<path d="M498.0,330.0 C501.0,344.0 510.0,351.0 526.0,351.0 L544.0,351.0 C560.0,351.0 568.0,342.0 569.0,330.0"/>
<path d="M568.0,330.0 C571.0,344.0 580.0,351.0 596.0,351.0 L614.0,351.0 C630.0,351.0 638.0,342.0 639.0,330.0"/>
<path d="M638.0,330.0 C641.0,344.0 650.0,351.0 666.0,351.0 L684.0,351.0 C700.0,351.0 708.0,342.0 709.0,330.0"/>
<path d="M708.0,330.0 C711.0,344.0 720.0,351.0 736.0,351.0 L754.0,351.0 C770.0,351.0 778.0,342.0 779.0,330.0"/>
<path d="M-66.0,352.0 C-63.0,366.0 -54.0,373.0 -38.0,373.0 L-20.0,373.0 C-4.0,373.0 4.0,364.0 5.0,352.0"/>
<path d="M4.0,352.0 C7.0,366.0 16.0,373.0 32.0,373.0 L50.0,373.0 C66.0,373.0 74.0,364.0 75.0,352.0"/>
<path d="M74.0,352.0 C77.0,366.0 86.0,373.0 102.0,373.0 L120.0,373.0 C136.0,373.0 144.0,364.0 145.0,352.0"/>
<path d="M144.0,352.0 C147.0,366.0 156.0,373.0 172.0,373.0 L190.0,373.0 C206.0,373.0 214.0,364.0 215.0,352.0"/>
<path d="M214.0,352.0 C217.0,366.0 226.0,373.0 242.0,373.0 L260.0,373.0 C276.0,373.0 284.0,364.0 285.0,352.0"/>
<path d="M284.0,352.0 C287.0,366.0 296.0,373.0 312.0,373.0 L330.0,373.0 C346.0,373.0 354.0,364.0 355.0,352.0"/>
<path d="M354.0,352.0 C357.0,366.0 366.0,373.0 382.0,373.0 L400.0,373.0 C416.0,373.0 424.0,364.0 425.0,352.0"/>
<path d="M424.0,352.0 C427.0,366.0 436.0,373.0 452.0,373.0 L470.0,373.0 C486.0,373.0 494.0,364.0 495.0,352.0"/>
<path d="M494.0,352.0 C497.0,366.0 506.0,373.0 522.0,373.0 L540.0,373.0 C556.0,373.0 564.0,364.0 565.0,352.0"/>
<path d="M564.0,352.0 C567.0,366.0 576.0,373.0 592.0,373.0 L610.0,373.0 C626.0,373.0 634.0,364.0 635.0,352.0"/>
<path d="M634.0,352.0 C637.0,366.0 646.0,373.0 662.0,373.0 L680.0,373.0 C696.0,373.0 704.0,364.0 705.0,352.0"/>
<path d="M704.0,352.0 C707.0,366.0 716.0,373.0 732.0,373.0 L750.0,373.0 C766.0,373.0 774.0,364.0 775.0,352.0"/>
</g>
<g fill="none" stroke="#e0e0e0" stroke-width="1.1">
<path d="M-34.0,176.0 C-31.0,190.0 -22.0,197.0 -6.0,197.0 L12.0,197.0 C28.0,197.0 36.0,188.0 37.0,176.0"/>
<path d="M36.0,176.0 C39.0,190.0 48.0,197.0 64.0,197.0 L82.0,197.0 C98.0,197.0 106.0,188.0 107.0,176.0"/>
<path d="M106.0,176.0 C109.0,190.0 118.0,197.0 134.0,197.0 L152.0,197.0 C168.0,197.0 176.0,188.0 177.0,176.0"/>
<path d="M176.0,176.0 C179.0,190.0 188.0,197.0 204.0,197.0 L222.0,197.0 C238.0,197.0 246.0,188.0 247.0,176.0"/>
<path d="M246.0,176.0 C249.0,190.0 258.0,197.0 274.0,197.0 L292.0,197.0 C308.0,197.0 316.0,188.0 317.0,176.0"/>
<path d="M316.0,176.0 C319.0,190.0 328.0,197.0 344.0,197.0 L362.0,197.0 C378.0,197.0 386.0,188.0 387.0,176.0"/>
<path d="M386.0,176.0 C389.0,190.0 398.0,197.0 414.0,197.0 L432.0,197.0 C448.0,197.0 456.0,188.0 457.0,176.0"/>
<path d="M456.0,176.0 C459.0,190.0 468.0,197.0 484.0,197.0 L502.0,197.0 C518.0,197.0 526.0,188.0 527.0,176.0"/>
<path d="M526.0,176.0 C529.0,190.0 538.0,197.0 554.0,197.0 L572.0,197.0 C588.0,197.0 596.0,188.0 597.0,176.0"/>
<path d="M596.0,176.0 C599.0,190.0 608.0,197.0 624.0,197.0 L642.0,197.0 C658.0,197.0 666.0,188.0 667.0,176.0"/>
<path d="M666.0,176.0 C669.0,190.0 678.0,197.0 694.0,197.0 L712.0,197.0 C728.0,197.0 736.0,188.0 737.0,176.0"/>
<path d="M736.0,176.0 C739.0,190.0 748.0,197.0 764.0,197.0 L782.0,197.0 C798.0,197.0 806.0,188.0 807.0,176.0"/>
<path d="M-38.0,198.0 C-35.0,212.0 -26.0,219.0 -10.0,219.0 L8.0,219.0 C24.0,219.0 32.0,210.0 33.0,198.0"/>
<path d="M32.0,198.0 C35.0,212.0 44.0,219.0 60.0,219.0 L78.0,219.0 C94.0,219.0 102.0,210.0 103.0,198.0"/>
<path d="M102.0,198.0 C105.0,212.0 114.0,219.0 130.0,219.0 L148.0,219.0 C164.0,219.0 172.0,210.0 173.0,198.0"/>
<path d="M172.0,198.0 C175.0,212.0 184.0,219.0 200.0,219.0 L218.0,219.0 C234.0,219.0 242.0,210.0 243.0,198.0"/>
<path d="M242.0,198.0 C245.0,212.0 254.0,219.0 270.0,219.0 L288.0,219.0 C304.0,219.0 312.0,210.0 313.0,198.0"/>
<path d="M312.0,198.0 C315.0,212.0 324.0,219.0 340.0,219.0 L358.0,219.0 C374.0,219.0 382.0,210.0 383.0,198.0"/>
<path d="M382.0,198.0 C385.0,212.0 394.0,219.0 410.0,219.0 L428.0,219.0 C444.0,219.0 452.0,210.0 453.0,198.0"/>
<path d="M452.0,198.0 C455.0,212.0 464.0,219.0 480.0,219.0 L498.0,219.0 C514.0,219.0 522.0,210.0 523.0,198.0"/>
<path d="M522.0,198.0 C525.0,212.0 534.0,219.0 550.0,219.0 L568.0,219.0 C584.0,219.0 592.0,210.0 593.0,198.0"/>
<path d="M592.0,198.0 C595.0,212.0 604.0,219.0 620.0,219.0 L638.0,219.0 C654.0,219.0 662.0,210.0 663.0,198.0"/>
<path d="M662.0,198.0 C665.0,212.0 674.0,219.0 690.0,219.0 L708.0,219.0 C724.0,219.0 732.0,210.0 733.0,198.0"/>
<path d="M732.0,198.0 C735.0,212.0 744.0,219.0 760.0,219.0 L778.0,219.0 C794.0,219.0 802.0,210.0 803.0,198.0"/>
<path d="M-42.0,220.0 C-39.0,234.0 -30.0,241.0 -14.0,241.0 L4.0,241.0 C20.0,241.0 28.0,232.0 29.0,220.0"/>
<path d="M28.0,220.0 C31.0,234.0 40.0,241.0 56.0,241.0 L74.0,241.0 C90.0,241.0 98.0,232.0 99.0,220.0"/>
<path d="M98.0,220.0 C101.0,234.0 110.0,241.0 126.0,241.0 L144.0,241.0 C160.0,241.0 168.0,232.0 169.0,220.0"/>
<path d="M168.0,220.0 C171.0,234.0 180.0,241.0 196.0,241.0 L214.0,241.0 C230.0,241.0 238.0,232.0 239.0,220.0"/>
<path d="M238.0,220.0 C241.0,234.0 250.0,241.0 266.0,241.0 L284.0,241.0 C300.0,241.0 308.0,232.0 309.0,220.0"/>
<path d="M308.0,220.0 C311.0,234.0 320.0,241.0 336.0,241.0 L354.0,241.0 C370.0,241.0 378.0,232.0 379.0,220.0"/>
<path d="M378.0,220.0 C381.0,234.0 390.0,241.0 406.0,241.0 L424.0,241.0 C440.0,241.0 448.0,232.0 449.0,220.0"/>
<path d="M448.0,220.0 C451.0,234.0 460.0,241.0 476.0,241.0 L494.0,241.0 C510.0,241.0 518.0,232.0 519.0,220.0"/>
<path d="M518.0,220.0 C521.0,234.0 530.0,241.0 546.0,241.0 L564.0,241.0 C580.0,241.0 588.0,232.0 589.0,220.0"/>
<path d="M588.0,220.0 C591.0,234.0 600.0,241.0 616.0,241.0 L634.0,241.0 C650.0,241.0 658.0,232.0 659.0,220.0"/>
<path d="M658.0,220.0 C661.0,234.0 670.0,241.0 686.0,241.0 L704.0,241.0 C720.0,241.0 728.0,232.0 729.0,220.0"/>
<path d="M728.0,220.0 C731.0,234.0 740.0,241.0 756.0,241.0 L774.0,241.0 C790.0,241.0 798.0,232.0 799.0,220.0"/>
<path d="M-46.0,242.0 C-43.0,256.0 -34.0,263.0 -18.0,263.0 L0.0,263.0 C16.0,263.0 24.0,254.0 25.0,242.0"/>
<path d="M24.0,242.0 C27.0,256.0 36.0,263.0 52.0,263.0 L70.0,263.0 C86.0,263.0 94.0,254.0 95.0,242.0"/>
<path d="M94.0,242.0 C97.0,256.0 106.0,263.0 122.0,263.0 L140.0,263.0 C156.0,263.0 164.0,254.0 165.0,242.0"/>
<path d="M164.0,242.0 C167.0,256.0 176.0,263.0 192.0,263.0 L210.0,263.0 C226.0,263.0 234.0,254.0 235.0,242.0"/>
<path d="M234.0,242.0 C237.0,256.0 246.0,263.0 262.0,263.0 L280.0,263.0 C296.0,263.0 304.0,254.0 305.0,242.0"/>
<path d="M304.0,242.0 C307.0,256.0 316.0,263.0 332.0,263.0 L350.0,263.0 C366.0,263.0 374.0,254.0 375.0,242.0"/>
<path d="M374.0,242.0 C377.0,256.0 386.0,263.0 402.0,263.0 L420.0,263.0 C436.0,263.0 444.0,254.0 445.0,242.0"/>
<path d="M444.0,242.0 C447.0,256.0 456.0,263.0 472.0,263.0 L490.0,263.0 C506.0,263.0 514.0,254.0 515.0,242.0"/>
<path d="M514.0,242.0 C517.0,256.0 526.0,263.0 542.0,263.0 L560.0,263.0 C576.0,263.0 584.0,254.0 585.0,242.0"/>
<path d="M584.0,242.0 C587.0,256.0 596.0,263.0 612.0,263.0 L630.0,263.0 C646.0,263.0 654.0,254.0 655.0,242.0"/>
<path d="M654.0,242.0 C657.0,256.0 666.0,263.0 682.0,263.0 L700.0,263.0 C716.0,263.0 724.0,254.0 725.0,242.0"/>
<path d="M724.0,242.0 C727.0,256.0 736.0,263.0 752.0,263.0 L770.0,263.0 C786.0,263.0 794.0,254.0 795.0,242.0"/>
<path d="M-50.0,264.0 C-47.0,278.0 -38.0,285.0 -22.0,285.0 L-4.0,285.0 C12.0,285.0 20.0,276.0 21.0,264.0"/>
<path d="M20.0,264.0 C23.0,278.0 32.0,285.0 48.0,285.0 L66.0,285.0 C82.0,285.0 90.0,276.0 91.0,264.0"/>
<path d="M90.0,264.0 C93.0,278.0 102.0,285.0 118.0,285.0 L136.0,285.0 C152.0,285.0 160.0,276.0 161.0,264.0"/>
<path d="M160.0,264.0 C163.0,278.0 172.0,285.0 188.0,285.0 L206.0,285.0 C222.0,285.0 230.0,276.0 231.0,264.0"/>
<path d="M230.0,264.0 C233.0,278.0 242.0,285.0 258.0,285.0 L276.0,285.0 C292.0,285.0 300.0,276.0 301.0,264.0"/>
<path d="M300.0,264.0 C303.0,278.0 312.0,285.0 328.0,285.0 L346.0,285.0 C362.0,285.0 370.0,276.0 371.0,264.0"/>
<path d="M370.0,264.0 C373.0,278.0 382.0,285.0 398.0,285.0 L416.0,285.0 C432.0,285.0 440.0,276.0 441.0,264.0"/>
<path d="M440.0,264.0 C443.0,278.0 452.0,285.0 468.0,285.0 L486.0,285.0 C502.0,285.0 510.0,276.0 511.0,264.0"/>
<path d="M510.0,264.0 C513.0,278.0 522.0,285.0 538.0,285.0 L556.0,285.0 C572.0,285.0 580.0,276.0 581.0,264.0"/>
<path d="M580.0,264.0 C583.0,278.0 592.0,285.0 608.0,285.0 L626.0,285.0 C642.0,285.0 650.0,276.0 651.0,264.0"/>
<path d="M650.0,264.0 C653.0,278.0 662.0,285.0 678.0,285.0 L696.0,285.0 C712.0,285.0 720.0,276.0 721.0,264.0"/>
<path d="M720.0,264.0 C723.0,278.0 732.0,285.0 748.0,285.0 L766.0,285.0 C782.0,285.0 790.0,276.0 791.0,264.0"/>
<path d="M-54.0,286.0 C-51.0,300.0 -42.0,307.0 -26.0,307.0 L-8.0,307.0 C8.0,307.0 16.0,298.0 17.0,286.0"/>
<path d="M16.0,286.0 C19.0,300.0 28.0,307.0 44.0,307.0 L62.0,307.0 C78.0,307.0 86.0,298.0 87.0,286.0"/>
<path d="M86.0,286.0 C89.0,300.0 98.0,307.0 114.0,307.0 L132.0,307.0 C148.0,307.0 156.0,298.0 157.0,286.0"/>
<path d="M156.0,286.0 C159.0,300.0 168.0,307.0 184.0,307.0 L202.0,307.0 C218.0,307.0 226.0,298.0 227.0,286.0"/>
<path d="M226.0,286.0 C229.0,300.0 238.0,307.0 254.0,307.0 L272.0,307.0 C288.0,307.0 296.0,298.0 297.0,286.0"/>
<path d="M296.0,286.0 C299.0,300.0 308.0,307.0 324.0,307.0 L342.0,307.0 C358.0,307.0 366.0,298.0 367.0,286.0"/>
<path d="M366.0,286.0 C369.0,300.0 378.0,307.0 394.0,307.0 L412.0,307.0 C428.0,307.0 436.0,298.0 437.0,286.0"/>
<path d="M436.0,286.0 C439.0,300.0 448.0,307.0 464.0,307.0 L482.0,307.0 C498.0,307.0 506.0,298.0 507.0,286.0"/>
<path d="M506.0,286.0 C509.0,300.0 518.0,307.0 534.0,307.0 L552.0,307.0 C568.0,307.0 576.0,298.0 577.0,286.0"/>
<path d="M576.0,286.0 C579.0,300.0 588.0,307.0 604.0,307.0 L622.0,307.0 C638.0,307.0 646.0,298.0 647.0,286.0"/>
<path d="M646.0,286.0 C649.0,300.0 658.0,307.0 674.0,307.0 L692.0,307.0 C708.0,307.0 716.0,298.0 717.0,286.0"/>
<path d="M716.0,286.0 C719.0,300.0 728.0,307.0 744.0,307.0 L762.0,307.0 C778.0,307.0 786.0,298.0 787.0,286.0"/>
<path d="M-58.0,308.0 C-55.0,322.0 -46.0,329.0 -30.0,329.0 L-12.0,329.0 C4.0,329.0 12.0,320.0 13.0,308.0"/>
<path d="M12.0,308.0 C15.0,322.0 24.0,329.0 40.0,329.0 L58.0,329.0 C74.0,329.0 82.0,320.0 83.0,308.0"/>
<path d="M82.0,308.0 C85.0,322.0 94.0,329.0 110.0,329.0 L128.0,329.0 C144.0,329.0 152.0,320.0 153.0,308.0"/>
<path d="M152.0,308.0 C155.0,322.0 164.0,329.0 180.0,329.0 L198.0,329.0 C214.0,329.0 222.0,320.0 223.0,308.0"/>
<path d="M222.0,308.0 C225.0,322.0 234.0,329.0 250.0,329.0 L268.0,329.0 C284.0,329.0 292.0,320.0 293.0,308.0"/>
<path d="M292.0,308.0 C295.0,322.0 304.0,329.0 320.0,329.0 L338.0,329.0 C354.0,329.0 362.0,320.0 363.0,308.0"/>
<path d="M362.0,308.0 C365.0,322.0 374.0,329.0 390.0,329.0 L408.0,329.0 C424.0,329.0 432.0,320.0 433.0,308.0"/>
<path d="M432.0,308.0 C435.0,322.0 444.0,329.0 460.0,329.0 L478.0,329.0 C494.0,329.0 502.0,320.0 503.0,308.0"/>
<path d="M502.0,308.0 C505.0,322.0 514.0,329.0 530.0,329.0 L548.0,329.0 C564.0,329.0 572.0,320.0 573.0,308.0"/>
<path d="M572.0,308.0 C575.0,322.0 584.0,329.0 600.0,329.0 L618.0,329.0 C634.0,329.0 642.0,320.0 643.0,308.0"/>
<path d="M642.0,308.0 C645.0,322.0 654.0,329.0 670.0,329.0 L688.0,329.0 C704.0,329.0 712.0,320.0 713.0,308.0"/>
<path d="M712.0,308.0 C715.0,322.0 724.0,329.0 740.0,329.0 L758.0,329.0 C774.0,329.0 782.0,320.0 783.0,308.0"/>
<path d="M-62.0,330.0 C-59.0,344.0 -50.0,351.0 -34.0,351.0 L-16.0,351.0 C0.0,351.0 8.0,342.0 9.0,330.0"/>
<path d="M8.0,330.0 C11.0,344.0 20.0,351.0 36.0,351.0 L54.0,351.0 C70.0,351.0 78.0,342.0 79.0,330.0"/>
<path d="M78.0,330.0 C81.0,344.0 90.0,351.0 106.0,351.0 L124.0,351.0 C140.0,351.0 148.0,342.0 149.0,330.0"/>
<path d="M148.0,330.0 C151.0,344.0 160.0,351.0 176.0,351.0 L194.0,351.0 C210.0,351.0 218.0,342.0 219.0,330.0"/>
<path d="M218.0,330.0 C221.0,344.0 230.0,351.0 246.0,351.0 L264.0,351.0 C280.0,351.0 288.0,342.0 289.0,330.0"/>
<path d="M288.0,330.0 C291.0,344.0 300.0,351.0 316.0,351.0 L334.0,351.0 C350.0,351.0 358.0,342.0 359.0,330.0"/>
<path d="M358.0,330.0 C361.0,344.0 370.0,351.0 386.0,351.0 L404.0,351.0 C420.0,351.0 428.0,342.0 429.0,330.0"/>
<path d="M428.0,330.0 C431.0,344.0 440.0,351.0 456.0,351.0 L474.0,351.0 C490.0,351.0 498.0,342.0 499.0,330.0"/>
<path d="M498.0,330.0 C501.0,344.0 510.0,351.0 526.0,351.0 L544.0,351.0 C560.0,351.0 568.0,342.0 569.0,330.0"/>
<path d="M568.0,330.0 C571.0,344.0 580.0,351.0 596.0,351.0 L614.0,351.0 C630.0,351.0 638.0,342.0 639.0,330.0"/>
<path d="M638.0,330.0 C641.0,344.0 650.0,351.0 666.0,351.0 L684.0,351.0 C700.0,351.0 708.0,342.0 709.0,330.0"/>
<path d="M708.0,330.0 C711.0,344.0 720.0,351.0 736.0,351.0 L754.0,351.0 C770.0,351.0 778.0,342.0 779.0,330.0"/>
<path d="M-66.0,352.0 C-63.0,366.0 -54.0,373.0 -38.0,373.0 L-20.0,373.0 C-4.0,373.0 4.0,364.0 5.0,352.0"/>
<path d="M4.0,352.0 C7.0,366.0 16.0,373.0 32.0,373.0 L50.0,373.0 C66.0,373.0 74.0,364.0 75.0,352.0"/>
<path d="M74.0,352.0 C77.0,366.0 86.0,373.0 102.0,373.0 L120.0,373.0 C136.0,373.0 144.0,364.0 145.0,352.0"/>
<path d="M144.0,352.0 C147.0,366.0 156.0,373.0 172.0,373.0 L190.0,373.0 C206.0,373.0 214.0,364.0 215.0,352.0"/>
<path d="M214.0,352.0 C217.0,366.0 226.0,373.0 242.0,373.0 L260.0,373.0 C276.0,373.0 284.0,364.0 285.0,352.0"/>
<path d="M284.0,352.0 C287.0,366.0 296.0,373.0 312.0,373.0 L330.0,373.0 C346.0,373.0 354.0,364.0 355.0,352.0"/>
<path d="M354.0,352.0 C357.0,366.0 366.0,373.0 382.0,373.0 L400.0,373.0 C416.0,373.0 424.0,364.0 425.0,352.0"/>
<path d="M424.0,352.0 C427.0,366.0 436.0,373.0 452.0,373.0 L470.0,373.0 C486.0,373.0 494.0,364.0 495.0,352.0"/>
<path d="M494.0,352.0 C497.0,366.0 506.0,373.0 522.0,373.0 L540.0,373.0 C556.0,373.0 564.0,364.0 565.0,352.0"/>
<path d="M564.0,352.0 C567.0,366.0 576.0,373.0 592.0,373.0 L610.0,373.0 C626.0,373.0 634.0,364.0 635.0,352.0"/>
<path d="M634.0,352.0 C637.0,366.0 646.0,373.0 662.0,373.0 L680.0,373.0 C696.0,373.0 704.0,364.0 705.0,352.0"/>
<path d="M704.0,352.0 C707.0,366.0 716.0,373.0 732.0,373.0 L750.0,373.0 C766.0,373.0 774.0,364.0 775.0,352.0"/>
</g>
</g>

<!-- labels -->
<rect x="684.5" y="192.6" width="44.1" height="44.5" fill="none" stroke="#1e1e1e" stroke-width="4.6"/><path d="M704.4,227.7 L708.4,227.7 L708.4,202.7 L705.2,202.7 L698.0,208.9 L699.8,211.9 L704.4,207.6 Z" fill="#1e1e1e"/>
<rect x="684.5" y="353.6" width="44.1" height="44.1" fill="none" stroke="#1e1e1e" stroke-width="4.6"/><text class="n" x="706.0" y="388.7" text-anchor="middle">2</text>
<rect x="684.5" y="466.6" width="44.1" height="44.4" fill="none" stroke="#1e1e1e" stroke-width="4.6"/><text class="n" x="706.5" y="501.7" text-anchor="middle">3</text>
<rect x="684.5" y="577.5" width="44.1" height="44.3" fill="none" stroke="#1e1e1e" stroke-width="4.6"/><text class="n4" x="706.4" y="612.7" text-anchor="middle">4</text>
<rect x="335.7" y="250.7" width="41.8" height="41.6" fill="none" stroke="#fff" stroke-opacity="0.6" stroke-width="2"/><rect x="339.4" y="254.4" width="34.4" height="34.2" fill="none" stroke="#1e1e1e" stroke-width="4.4"/><path d="M357.5,282.2 L360.8,282.2 L360.8,261.8 L358.2,261.8 L351.0,266.9 L352.5,269.3 L357.5,265.8 Z" fill="#1e1e1e"/>
<rect x="461.5" y="315.5" width="34.0" height="34.1" fill="none" stroke="#1e1e1e" stroke-width="4.4"/><text class="m" x="478.5" y="342.5" text-anchor="middle">2</text>
<rect x="64.9" y="355.1" width="41.5" height="41.2" fill="none" stroke="#fff" stroke-opacity="0.6" stroke-width="2"/><rect x="68.6" y="358.8" width="34.1" height="33.8" fill="#fff" stroke="#1e1e1e" stroke-width="4.4"/><text class="m" x="85.7" y="385.6" text-anchor="middle">3</text>
<rect x="77.7" y="498.5" width="41.6" height="41.3" fill="none" stroke="#fff" stroke-opacity="0.6" stroke-width="2"/><rect x="81.4" y="502.2" width="34.2" height="33.9" fill="#fff" stroke="#1e1e1e" stroke-width="4.4"/><text class="m" x="98.0" y="528.6" text-anchor="middle">3</text>
<rect x="310.6" y="533.5" width="41.6" height="41.3" fill="none" stroke="#fff" stroke-opacity="0.6" stroke-width="2"/><rect x="314.3" y="537.2" width="34.2" height="33.9" fill="none" stroke="#1e1e1e" stroke-width="4.4"/><text class="m4" x="330.6" y="563.9" text-anchor="middle">4</text>
<rect x="461.3" y="576.7" width="34.4" height="34.0" fill="none" stroke="#1e1e1e" stroke-width="4.4"/><text class="m" x="479.0" y="603.7" text-anchor="middle">2</text>
<rect x="394.6" y="686.5" width="41.7" height="41.2" fill="none" stroke="#fff" stroke-opacity="0.6" stroke-width="2"/><rect x="398.3" y="690.2" width="34.3" height="33.8" fill="#f6f6f6" stroke="#1e1e1e" stroke-width="4.4"/><path d="M414.7,717.8 L418.0,717.8 L418.0,697.0 L415.3,697.0 L409.5,702.2 L411.0,704.7 L414.7,701.1 Z" fill="#1e1e1e"/>

<!-- text column -->
<g>
<text class="h" x="776" y="189.6" textLength="101.5" lengthAdjust="spacingAndGlyphs">Cover</text>
<text class="b" x="777" y="224.5" textLength="357" lengthAdjust="spacingAndGlyphs">Cover made of high-quality hypoallergenic</text>
<text class="b" x="777" y="246.5" textLength="332.5" lengthAdjust="spacingAndGlyphs">materials. The structure of the material</text>
<text class="b" x="777" y="268.5" textLength="329.5" lengthAdjust="spacingAndGlyphs">ensures ventilation and proper air flow</text>
<text class="b" x="777" y="290.5" textLength="133.5" lengthAdjust="spacingAndGlyphs">of the mattress.</text>

<text class="h" x="778" y="349.5" textLength="96" lengthAdjust="spacingAndGlyphs">Foam</text>
<text class="b" x="777.5" y="385" textLength="261.5" lengthAdjust="spacingAndGlyphs">Mattress has flexible polyether</text>
<text class="b" x="777.5" y="407" textLength="122.5" lengthAdjust="spacingAndGlyphs">foam N2444 R.</text>

<text class="h" x="775" y="462.3" textLength="65.5" lengthAdjust="spacingAndGlyphs">Felt</text>
<text class="b" x="774.5" y="498.8" textLength="220" lengthAdjust="spacingAndGlyphs">Felt is a backing layer that</text>
<text class="b" x="774.5" y="520.6" textLength="149.5" lengthAdjust="spacingAndGlyphs">provides stability.</text>

<text class="h" x="775" y="575.5" textLength="259" lengthAdjust="spacingAndGlyphs">Pocket springs</text>
<text class="b" x="774.5" y="611.3" textLength="282" lengthAdjust="spacingAndGlyphs">Elasticity ensure the mattress fits</text>
<text class="b" x="774.5" y="632.6" textLength="135.5" lengthAdjust="spacingAndGlyphs">the body shape.</text>
</g>
</svg>
</body></html>
